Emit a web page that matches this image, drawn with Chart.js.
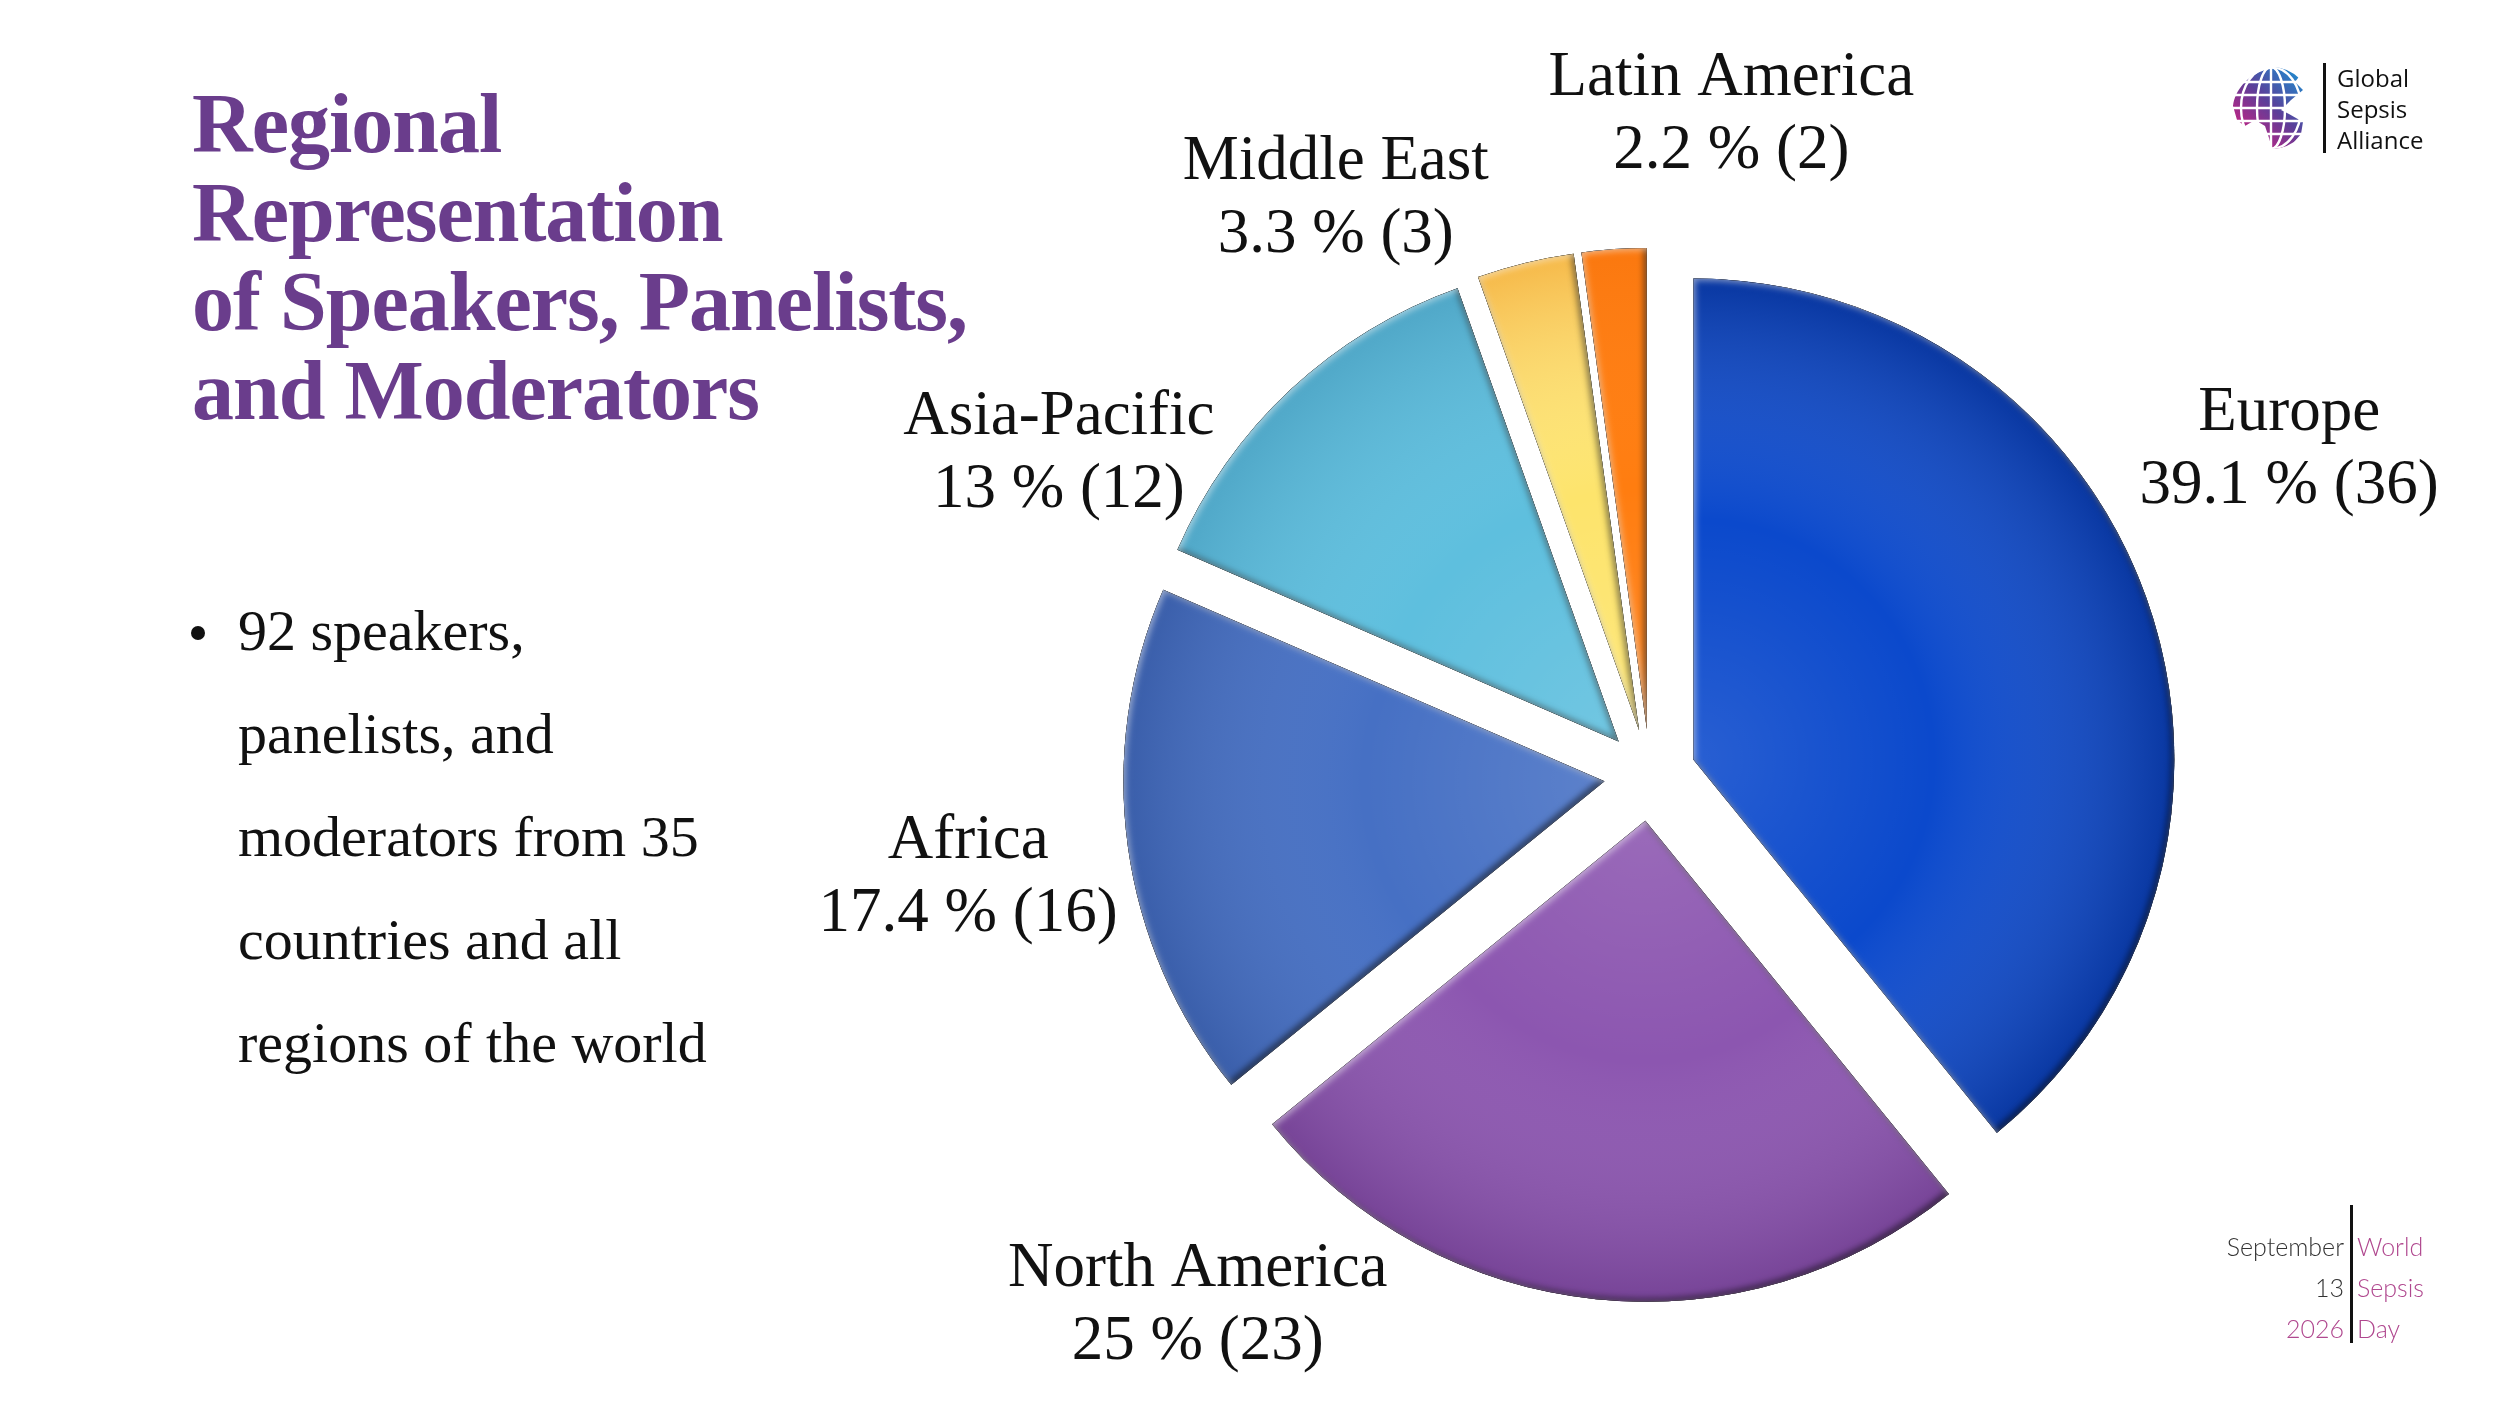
<!DOCTYPE html>
<html>
<head>
<meta charset="utf-8">
<script src="https://cdn.jsdelivr.net/npm/chart.js@4.4.1/dist/chart.umd.min.js"></script>
<style>
  html, body { margin: 0; padding: 0; background: #fff; }
  body { width: 2500px; height: 1406px; position: relative; overflow: hidden; }
  #pie { position: absolute; left: 0; top: 0; }
  .title {
    position: absolute; left: 192px; top: 79px;
    font-family: "Liberation Serif", serif; font-weight: bold;
    font-size: 84px; line-height: 89px; color: #6a3d8c; letter-spacing: -1px;
    white-space: nowrap;
  }
  .dot { position: absolute; left: 191px; top: 626px; width: 14px; height: 14px; border-radius: 50%; background: #111; }
  .points {
    position: absolute; left: 238px; top: 579px;
    font-family: "Liberation Serif", serif; font-size: 58px; line-height: 103px; color: #111;
    white-space: nowrap;
  }
  .gsa { position: absolute; left: 2229px; top: 62px; }
  .gsa-bar { position: absolute; left: 2323px; top: 63px; width: 3px; height: 90px; background: #111; }
  .gsa-text {
    position: absolute; left: 2337px; top: 62px;
    font-family: "Open Sans", sans-serif; font-size: 24px; line-height: 31px; color: #111;
  }
  .wsd-left {
    position: absolute; left: 2200px; width: 144px; top: 1226px; text-align: right;
    font-family: Lato, sans-serif; font-weight: 300; font-size: 25px; line-height: 41px; color: #333;
  }
  .wsd-bar { position: absolute; left: 2350px; top: 1205px; width: 3px; height: 138px; background: #111; }
  .wsd-right {
    position: absolute; left: 2357px; top: 1226px;
    font-family: Lato, sans-serif; font-weight: 300; font-size: 25px; line-height: 41px; color: #b0488f;
  }
</style>
</head>
<body>
<canvas id="pie" width="2500" height="1406"></canvas>

<div class="title">Regional<br>Representation<br>of Speakers, Panelists,<br>and Moderators</div>

<div class="dot"></div>
<div class="points">92 speakers,<br>panelists, and<br>moderators from 35<br>countries and all<br>regions of the world</div>

<svg class="gsa" width="84" height="92" viewBox="0 0 84 92">
  <defs>
    <linearGradient id="gg" x1="0.9" y1="0" x2="0.1" y2="1">
      <stop offset="0" stop-color="#1d8fd1"/>
      <stop offset="0.45" stop-color="#5b3f99"/>
      <stop offset="1" stop-color="#e8197b"/>
    </linearGradient>
    <clipPath id="gc"><circle cx="42" cy="46" r="41"/></clipPath>
  </defs>
  <g clip-path="url(#gc)">
    <path d="M4,44 C6,28 18,14 36,8 L56,4 L72,12 L66,20 L74,28 L62,38 L52,48 L60,52 L74,60 L72,72 L60,86 L44,90 L40,76 L36,64 L26,58 L16,64 L8,58 Z" fill="url(#gg)"/>
    <g stroke="#fff" stroke-width="2.4" fill="none">
      <ellipse cx="42" cy="46" rx="14" ry="41"/>
      <ellipse cx="42" cy="46" rx="30" ry="41"/>
      <line x1="42" y1="0" x2="42" y2="92"/>
      <line x1="0" y1="20" x2="84" y2="20"/>
      <line x1="0" y1="33" x2="84" y2="33"/>
      <line x1="0" y1="46" x2="84" y2="46"/>
      <line x1="0" y1="59" x2="84" y2="59"/>
      <line x1="0" y1="72" x2="84" y2="72"/>
    </g>
  </g>
</svg>
<div class="gsa-bar"></div>
<div class="gsa-text">Global<br>Sepsis<br>Alliance</div>

<div class="wsd-left">September<br>13<br><span style="color:#b0488f">2026</span></div>
<div class="wsd-bar"></div>
<div class="wsd-right">World<br>Sepsis<br>Day</div>

<script>
// data
const regions = ["Europe", "North America", "Africa", "Asia-Pacific", "Middle East", "Latin America"];
const speakers = [36, 23, 16, 12, 3, 2];
const sliceColors = ['#0b49cc', '#8c56b0', '#4670c4', '#5ebfde', '#fde46c', '#ff7d10'];
// tint laid over the rim of each slice
const rimTint = ['rgba(0,10,60,0.3)', 'rgba(40,0,60,0.22)', 'rgba(0,10,50,0.18)', 'rgba(0,40,80,0.16)',
                 'rgba(235,120,20,0.4)', 'rgba(200,60,0,0.08)'];

// where each label sits: angle from top (deg, clockwise) and distance in radii
const labelAngle = [64.2, 219.6, 260.1, 297.3, 330.7, 7.2];
const labelDist = [1.476, 1.475, 1.439, 1.383, 1.335, 1.349];

const EXPLODE = 46;
const total = speakers.reduce((a, b) => a + b, 0);

function pctText(i) {
  const p = Number((speakers[i] / total * 100).toFixed(1));
  return p + ' % (' + speakers[i] + ')';
}

function slicePath(ctx, arc) {
  ctx.moveTo(arc.x, arc.y);
  ctx.arc(arc.x, arc.y, arc.outerRadius, arc.startAngle, arc.endAngle);
  ctx.closePath();
}

// inner shadow along the edges, offset gives the bevel direction
function edge(ctx, arc, color, ox, oy) {
  ctx.save();
  ctx.beginPath();
  ctx.rect(arc.x - 2000, arc.y - 2000, 4000, 4000);
  slicePath(ctx, arc);
  ctx.shadowColor = color;
  ctx.shadowBlur = 6;
  ctx.shadowOffsetX = ox;
  ctx.shadowOffsetY = oy;
  ctx.fillStyle = '#000';
  ctx.fill('evenodd');
  ctx.restore();
}

function bevel(ctx, arc, i) {
  const x = arc.x, y = arc.y, r = arc.outerRadius;
  ctx.save();
  ctx.beginPath();
  slicePath(ctx, arc);
  ctx.clip();
  const g = ctx.createRadialGradient(x, y, 0, x, y, r);
  g.addColorStop(0, 'rgba(255,255,255,0.12)');
  g.addColorStop(0.5, 'rgba(255,255,255,0)');
  g.addColorStop(1, rimTint[i]);
  ctx.fillStyle = g;
  ctx.fillRect(x - r, y - r, 2 * r, 2 * r);
  edge(ctx, arc, 'rgba(0,0,0,0.55)', -3, -3);
  edge(ctx, arc, 'rgba(255,255,255,0.5)', 2, 2);
  ctx.restore();
}

const explodePlugin = {
  id: 'explode',
  beforeDatasetDraw(chart, args) {
    const ctx = chart.ctx;
    args.meta.data.forEach((arc, i) => {
      const mid = (arc.startAngle + arc.endAngle) / 2;
      ctx.save();
      ctx.translate(Math.cos(mid) * EXPLODE, Math.sin(mid) * EXPLODE);
      arc.draw(ctx);
      bevel(ctx, arc, i);
      ctx.restore();
    });
    return false;
  }
};

const labelPlugin = {
  id: 'sliceLabels',
  afterDatasetsDraw(chart) {
    const ctx = chart.ctx;
    const meta = chart.getDatasetMeta(0);
    ctx.save();
    ctx.font = '63px "Liberation Serif", serif';
    ctx.fillStyle = '#111';
    ctx.textAlign = 'center';
    ctx.textBaseline = 'alphabetic';
    meta.data.forEach((arc, i) => {
      const a = labelAngle[i] * Math.PI / 180;
      const d = labelDist[i] * arc.outerRadius;
      const cx = arc.x + Math.sin(a) * d;
      const cy = arc.y - Math.cos(a) * d;
      ctx.fillText(regions[i], cx, cy - 36);
      ctx.fillText(pctText(i), cx, cy + 37);
    });
    ctx.restore();
  }
};

new Chart(document.getElementById('pie'), {
  type: 'pie',
  data: {
    labels: regions,
    datasets: [{
      data: speakers,
      backgroundColor: sliceColors,
      borderWidth: 0
    }]
  },
  options: {
    responsive: false,
    animation: false,
    radius: 481,
    layout: { padding: { left: 1100, right: 300, top: 144, bottom: 0 } },
    plugins: {
      legend: { display: false },
      tooltip: { enabled: false }
    }
  },
  plugins: [explodePlugin, labelPlugin]
});
</script>
</body>
</html>
